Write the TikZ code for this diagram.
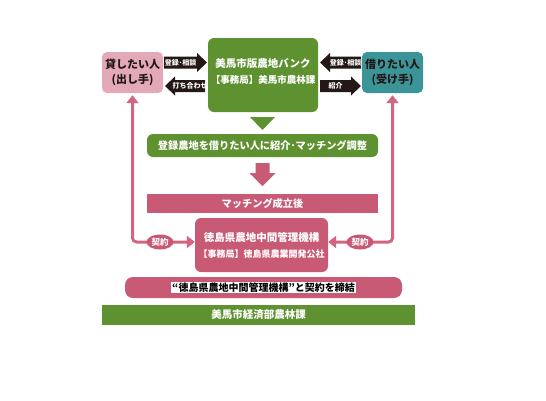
\documentclass[tikz,border=0pt]{standalone}
\usepackage{fontspec}
\setmainfont{Noto Sans CJK JP}
\usetikzlibrary{arrows.meta,shapes.geometric}
\definecolor{cgreen}{HTML}{5E912F}
\definecolor{cpink}{HTML}{C95A76}
\definecolor{cline}{HTML}{D4647F}
\definecolor{clight}{HTML}{E4A9B8}
\definecolor{cteal}{HTML}{3A9498}
\definecolor{cdark}{HTML}{231815}
\tikzset{
  box/.style={rectangle, inner sep=0pt, align=center},
  whitetxt/.style={text=white, font=\bfseries\fontsize{10.5}{16}\selectfont},
  arrtxt/.style={text=white, inner sep=0pt, font=\bfseries\fontsize{7}{7}\selectfont},
  pinkline/.style={draw=cline, line width=3pt, rounded corners=4pt,
    arrows={Triangle[width=12pt,length=8pt]-Triangle[width=12pt,length=8pt]}},
  pill/.style={ellipse, fill=cpink, text=white, inner sep=0pt, minimum width=27pt,
    minimum height=15pt, font=\bfseries\fontsize{8.5}{9}\selectfont},
}
\begin{document}
\begin{tikzpicture}[x=1pt,y=-1pt]
\useasboundingbox[fill=white] (0,0) rectangle (546,400);

% top boxes
\node[box, fill=cgreen, rounded corners=6pt, minimum width=110pt, minimum height=74pt]
  (bank) at (263,75) {};
\node[box, whitetxt] (bankt) at (263,71.5)
  {美馬市版農地バンク\\{\fontsize{9.5}{9}\selectfont【事務局】美馬市農林課}};
\node[box, fill=clight, rounded corners=5pt, minimum width=61pt, minimum height=41pt,
  text=cdark, font=\bfseries\fontsize{11}{15}\selectfont] (lend) at (132.5,72.5)
  {貸したい人\\(出し手)};
\node[box, fill=cteal, rounded corners=5pt, minimum width=61pt, minimum height=41pt,
  text=cdark, font=\bfseries\fontsize{11}{15}\selectfont] (borrow) at (392.5,72.5)
  {借りたい人\\(受け手)};

% black arrows
\fill[cdark] (164,56.5)--(197,56.5)--(197,53)--(207,62.5)--(197,72)--(197,68.5)--(164,68.5)--cycle;
\node[arrtxt] (a1) at (180.5,62.5) {登録･相談};
\fill[cdark] (205,80)--(175,80)--(175,76.5)--(165,86)--(175,95.5)--(175,92)--(205,92)--cycle;
\node[arrtxt] (a2) at (190,86) {打ち合わせ};
\fill[cdark] (361,56.5)--(330,56.5)--(330,53)--(320,62.5)--(330,72)--(330,68.5)--(361,68.5)--cycle;
\node[arrtxt] (a3) at (345.5,62.5) {登録･相談};
\fill[cdark] (320,80)--(351,80)--(351,76.5)--(361,86)--(351,95.5)--(351,92)--(320,92)--cycle;
\node[arrtxt] (a4) at (335.5,86) {紹介};

% green triangle
\fill[cgreen] (250,117)--(275,117)--(262.5,130)--cycle;

% green bar
\node[box, fill=cgreen, rounded corners=6pt, minimum width=231pt, minimum height=23pt,
  whitetxt, font=\bfseries\fontsize{10.2}{12}\selectfont] (match) at (262.5,145.5)
  {登録農地を借りたい人に紹介･マッチング調整};

% pink block arrow
\fill[cpink] (255.5,163)--(269.5,163)--(269.5,173)--(275.5,173)--(262.5,186)--(249.5,173)--(255.5,173)--cycle;

% pink bar
\node[box, fill=cpink, minimum width=231pt, minimum height=19pt,
  whitetxt, font=\bfseries\fontsize{10.2}{12}\selectfont] (after) at (262.5,203.5)
  {マッチング成立後};

% middle box
\node[box, fill=cpink, rounded corners=6pt, minimum width=133pt, minimum height=54pt,
  whitetxt] (org) at (261.5,245)
  {徳島県農地中間管理機構\\{\fontsize{9}{9}\selectfont【事務局】徳島県農業開発公社}};

% connectors
\draw[pinkline, shorten <=2pt] (lend.south) |- ([yshift=3pt]org.west);
\draw[pinkline, shorten <=2pt] (borrow.south) |- ([yshift=3pt]org.east);
\node[pill] (k1) at (160,242) {契約};
\node[pill] (k2) at (360,242) {契約};

% bottom pill
\node[box, fill=cpink, rounded corners=8pt, minimum width=277pt, minimum height=21pt]
  (contract) at (263.5,287.5) {};
\node[fill=white, text=black, inner sep=1pt, font=\bfseries\fontsize{10}{11}\selectfont]
  (ctext) at (contract.center) {“徳島県農地中間管理機構”と契約を締結};

% bottom green bar
\node[box, fill=cgreen, minimum width=313pt, minimum height=20pt,
  whitetxt] (dept) at (258.5,315) {美馬市経済部農林課};
\end{tikzpicture}
\end{document}
